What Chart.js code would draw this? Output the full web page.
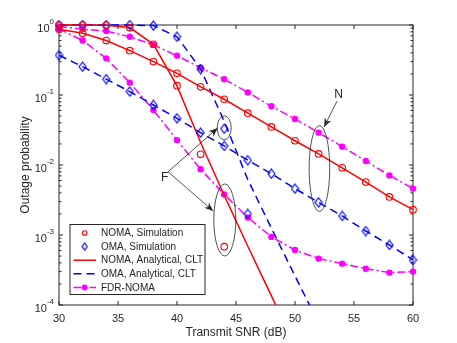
<!DOCTYPE html>
<html>
<head>
<meta charset="utf-8">
<script src="https://cdn.jsdelivr.net/npm/chart.js@4.4.0/dist/chart.umd.min.js"></script>
<style>
html, body { margin: 0; padding: 0; background: #fff; }
</style>
</head>
<body>
<canvas id="chart" width="457" height="343"></canvas>
<script>
// values (outage probability vs transmit SNR)
const snr = [30, 32, 34, 36, 38, 40, 42, 44, 46, 48, 50, 52, 54, 56, 58, 60]
const nomaNear = [0.87, 0.76, 0.60, 0.43, 0.30, 0.204, 0.131, 0.087, 0.055, 0.035, 0.0222, 0.0144, 0.0091, 0.0057, 0.0035, 0.0023]
const omaNear = [0.37, 0.254, 0.169, 0.112, 0.072, 0.0465, 0.029, 0.0187, 0.0117, 0.0075, 0.0046, 0.00293, 0.00187, 0.00114, 0.00072, 0.00044]
const fdrNear = [0.95, 0.87, 0.82, 0.68, 0.52, 0.365, 0.245, 0.168, 0.109, 0.069, 0.0454, 0.029, 0.0183, 0.0114, 0.0071, 0.0046]
const fdrFar = [0.88, 0.60, 0.334, 0.15, 0.061, 0.0227, 0.0087, 0.0038, 0.00178, 0.00094, 0.00061, 0.00046, 0.00039, 0.00033, 0.00029, 0.0003]

const nomaFarSimSnr = [30, 32, 34, 36, 38, 40, 42, 44]
const nomaFarSim = [1.0, 1.0, 0.99, 0.91, 0.53, 0.136, 0.0142, 0.00068]
const omaFarSimSnr = [30, 32, 34, 36, 38, 40, 42, 44, 46]
const omaFarSim = [1.0, 1.0, 1.0, 1.0, 0.98, 0.68, 0.235, 0.033, 0.0020]

const nomaFarCltSnr = [30, 32, 34, 36, 38, 40, 42, 44, 46, 48, 50]
const nomaFarClt = [1.0, 1.0, 0.99, 0.92, 0.53, 0.135, 0.021, 0.0037, 0.00069, 0.000135, 0.000026]
const omaFarCltSnr = [30, 32, 34, 36, 38, 40, 42, 44, 46, 48, 50, 52]
const omaFarClt = [1.0, 1.0, 1.0, 1.0, 0.98, 0.68, 0.235, 0.042, 0.0062, 0.00125, 0.00026, 0.000055]

const xTicks = [30, 35, 40, 45, 50, 55, 60]
const yExponents = [-4, -3, -2, -1, 0]

// annotation shapes, in data units (radii in px)
const ellipses = [
  {x: 44, y: 0.034, rx: 7, ry: 12},
  {x: 44.05, y: 0.00164, rx: 11, ry: 36},
  {x: 52.07, y: 0.0089, rx: 10.3, ry: 43}
]
const arrows = [
  {from: [39.24, 0.008], to: [43.45, 0.0338]},
  {from: [39.24, 0.008], to: [43.07, 0.0022]},
  {from: [53.56, 0.082], to: [52.46, 0.0348]}
]
const notes = [
  {text: 'F', x: 38.96, y: 0.0065},
  {text: 'N', x: 53.7, y: 0.1024}
]

const RED = '#ff0000', BLUE = '#0000ff', MAG = '#ff00ff', INK = '#262626'
const FONT = "'Liberation Sans', Arial, sans-serif"
Chart.defaults.font.family = FONT

const xy = (xs, ys) => xs.map((x, i) => ({x: x, y: ys[i]}))

function makeDiamond(w, h, lw) {
  const c = document.createElement('canvas')
  c.width = w
  c.height = h
  const g = c.getContext('2d')
  g.strokeStyle = BLUE
  g.lineWidth = lw
  g.beginPath()
  g.moveTo(w / 2, 1)
  g.lineTo(w - 1, h / 2)
  g.lineTo(w / 2, h - 1)
  g.lineTo(1, h / 2)
  g.closePath()
  g.stroke()
  return c
}
const diamond = makeDiamond(9, 11, 1.2)
const smallDiamond = makeDiamond(7, 9, 1.2)

const clip = {left: 8, right: 8, top: 8, bottom: 0}

function simSet(label, data, color, style, legend) {
  return {
    label: label, data: data, showLine: false, legend: legend, clip: clip,
    borderColor: color, backgroundColor: 'rgba(0,0,0,0)',
    pointStyle: style, pointRadius: 3.3, pointBorderWidth: 1.1,
    pointBorderColor: color, pointBackgroundColor: 'rgba(0,0,0,0)',
    legendStyle: style === diamond ? smallDiamond : style, legendRadius: 2.3
  }
}
function lineSet(label, data, color, dash, legend) {
  return {
    label: label, data: data, legend: legend, clip: clip,
    borderColor: color, borderWidth: 1.5, borderDash: dash,
    pointRadius: 0, tension: 0
  }
}
function fdrSet(label, data, legend) {
  return {
    label: label, data: data, legend: legend, clip: clip,
    borderColor: MAG, borderWidth: 1.5, borderDash: [8, 3, 2, 3],
    pointStyle: 'circle', pointRadius: 3.2, pointBorderWidth: 0,
    pointBackgroundColor: MAG, pointBorderColor: MAG,
    legendStyle: 'circle', legendRadius: 3
  }
}

const datasets = [
  simSet('NOMA, Simulation', xy(snr, nomaNear), RED, 'circle', true),
  simSet('NOMA, Simulation', xy(nomaFarSimSnr, nomaFarSim), RED, 'circle', false),
  simSet('OMA, Simulation', xy(snr, omaNear), BLUE, diamond, true),
  simSet('OMA, Simulation', xy(omaFarSimSnr, omaFarSim), BLUE, diamond, false),
  lineSet('NOMA, Analytical, CLT', xy(snr, nomaNear), RED, [], true),
  lineSet('NOMA, Analytical, CLT', xy(nomaFarCltSnr, nomaFarClt), RED, [], false),
  lineSet('OMA, Analytical, CLT', xy(snr, omaNear), BLUE, [8, 5], true),
  lineSet('OMA, Analytical, CLT', xy(omaFarCltSnr, omaFarClt), BLUE, [8, 5], false),
  fdrSet('FDR-NOMA', xy(snr, fdrNear), true),
  fdrSet('FDR-NOMA', xy(snr, fdrFar), false)
]

function arrowHead(ctx, x0, y0, x1, y1) {
  const ang = Math.atan2(y1 - y0, x1 - x0)
  const len = 9, half = 3.6
  ctx.save()
  ctx.translate(x1, y1)
  ctx.rotate(ang)
  ctx.beginPath()
  ctx.moveTo(0, 0)
  ctx.lineTo(-len, -half)
  ctx.lineTo(-len * 0.7, 0)
  ctx.lineTo(-len, half)
  ctx.closePath()
  ctx.fill()
  ctx.restore()
}

const decorate = {
  id: 'decorate',
  beforeDatasetsDraw(chart) {
    const {ctx, chartArea: a, scales: {x, y}} = chart
    ctx.save()
    ctx.strokeStyle = INK
    ctx.lineWidth = 1
    ctx.strokeRect(a.left, a.top, a.right - a.left, a.bottom - a.top)
    ctx.beginPath()
    for (const t of xTicks) {
      const px = x.getPixelForValue(t)
      ctx.moveTo(px, a.bottom); ctx.lineTo(px, a.bottom - 4)
      ctx.moveTo(px, a.top); ctx.lineTo(px, a.top + 4)
    }
    for (const e of yExponents) {
      for (let m = 1; m <= 9; m++) {
        const v = m * Math.pow(10, e)
        if (v > 1.0000001) break
        const py = y.getPixelForValue(v)
        const len = m === 1 ? 4 : 2.5
        ctx.moveTo(a.left, py); ctx.lineTo(a.left + len, py)
        ctx.moveTo(a.right, py); ctx.lineTo(a.right - len, py)
      }
    }
    ctx.stroke()
    // y tick labels 10^e
    ctx.fillStyle = INK
    ctx.textBaseline = 'middle'
    for (const e of yExponents) {
      const py = y.getPixelForValue(Math.pow(10, e))
      const ex = String(e)
      ctx.font = '8px ' + FONT
      const we = ctx.measureText(ex).width
      const right = a.left - 5
      ctx.textAlign = 'left'
      ctx.fillText(ex, right - we, py - 3)
      ctx.font = '11px ' + FONT
      ctx.textAlign = 'right'
      ctx.fillText('10', right - we, py + 3.5)
    }
    ctx.restore()
  },
  afterDatasetsDraw(chart) {
    const {ctx, scales: {x, y}} = chart
    ctx.save()
    ctx.strokeStyle = INK
    ctx.fillStyle = INK
    ctx.lineWidth = 0.8
    for (const el of ellipses) {
      ctx.beginPath()
      ctx.ellipse(x.getPixelForValue(el.x), y.getPixelForValue(el.y), el.rx, el.ry, 0, 0, Math.PI * 2)
      ctx.stroke()
    }
    for (const ar of arrows) {
      const x0 = x.getPixelForValue(ar.from[0]), y0 = y.getPixelForValue(ar.from[1])
      const x1 = x.getPixelForValue(ar.to[0]), y1 = y.getPixelForValue(ar.to[1])
      ctx.beginPath()
      ctx.moveTo(x0, y0)
      ctx.lineTo(x1, y1)
      ctx.stroke()
      arrowHead(ctx, x0, y0, x1, y1)
    }
    ctx.font = '12px ' + FONT
    ctx.textAlign = 'center'
    ctx.textBaseline = 'middle'
    for (const n of notes) {
      ctx.fillText(n.text, x.getPixelForValue(n.x), y.getPixelForValue(n.y))
    }
    ctx.restore()
  },
  afterDraw(chart) {
    const {ctx, chartArea: a} = chart
    const items = chart.data.datasets.filter(d => d.legend)
    const bx = a.left + 11, bw = 135, bh = 70
    const by = a.bottom - 10.5 - bh
    ctx.save()
    ctx.fillStyle = '#fff'
    ctx.fillRect(bx, by, bw, bh)
    ctx.strokeStyle = INK
    ctx.lineWidth = 1
    ctx.strokeRect(bx, by, bw, bh)
    ctx.font = '10px ' + FONT
    ctx.textBaseline = 'middle'
    items.forEach((d, i) => {
      const ry = by + 8.5 + i * 13.6
      if (d.showLine !== false) {
        ctx.save()
        ctx.strokeStyle = d.borderColor
        ctx.lineWidth = d.borderWidth
        ctx.setLineDash(d.borderDash || [])
        ctx.beginPath()
        ctx.moveTo(bx + 3.5, ry)
        ctx.lineTo(bx + 26, ry)
        ctx.stroke()
        ctx.restore()
      }
      if (d.legendStyle) {
        ctx.save()
        ctx.strokeStyle = d.pointBorderColor
        ctx.fillStyle = d.pointBackgroundColor
        ctx.lineWidth = d.pointBorderWidth
        Chart.helpers.drawPoint(ctx, {pointStyle: d.legendStyle, radius: d.legendRadius, borderWidth: d.pointBorderWidth, rotation: 0}, bx + 14.7, ry)
        ctx.restore()
      }
      ctx.fillStyle = INK
      ctx.textAlign = 'left'
      ctx.fillText(d.label, bx + 31, ry + 0.5)
    })
    ctx.restore()
  }
}

new Chart(document.getElementById('chart'), {
  type: 'line',
  data: {datasets: datasets},
  options: {
    responsive: false,
    animation: false,
    devicePixelRatio: 1,
    layout: {padding: {top: 25, right: 44, left: 0, bottom: 0}},
    plugins: {legend: {display: false}, tooltip: {enabled: false}},
    scales: {
      x: {
        type: 'linear', min: 30, max: 60,
        afterFit: s => { s.height = 38 },
        afterBuildTicks: s => { s.ticks = xTicks.map(v => ({value: v})) },
        grid: {display: false, drawTicks: false},
        border: {display: false},
        ticks: {color: INK, font: {size: 11}, padding: 7, maxRotation: 0, autoSkip: false},
        title: {display: true, text: 'Transmit SNR (dB)', color: INK, font: {size: 12}, padding: {top: 0, bottom: 3}}
      },
      y: {
        type: 'logarithmic', min: 1e-4, max: 1,
        afterFit: s => { s.width = 59 },
        grid: {display: false, drawTicks: false},
        border: {display: false},
        ticks: {display: false},
        title: {display: true, text: 'Outage probability', color: INK, font: {size: 12}, padding: {top: 18, bottom: 0}}
      }
    }
  },
  plugins: [decorate]
})
</script>
</body>
</html>
